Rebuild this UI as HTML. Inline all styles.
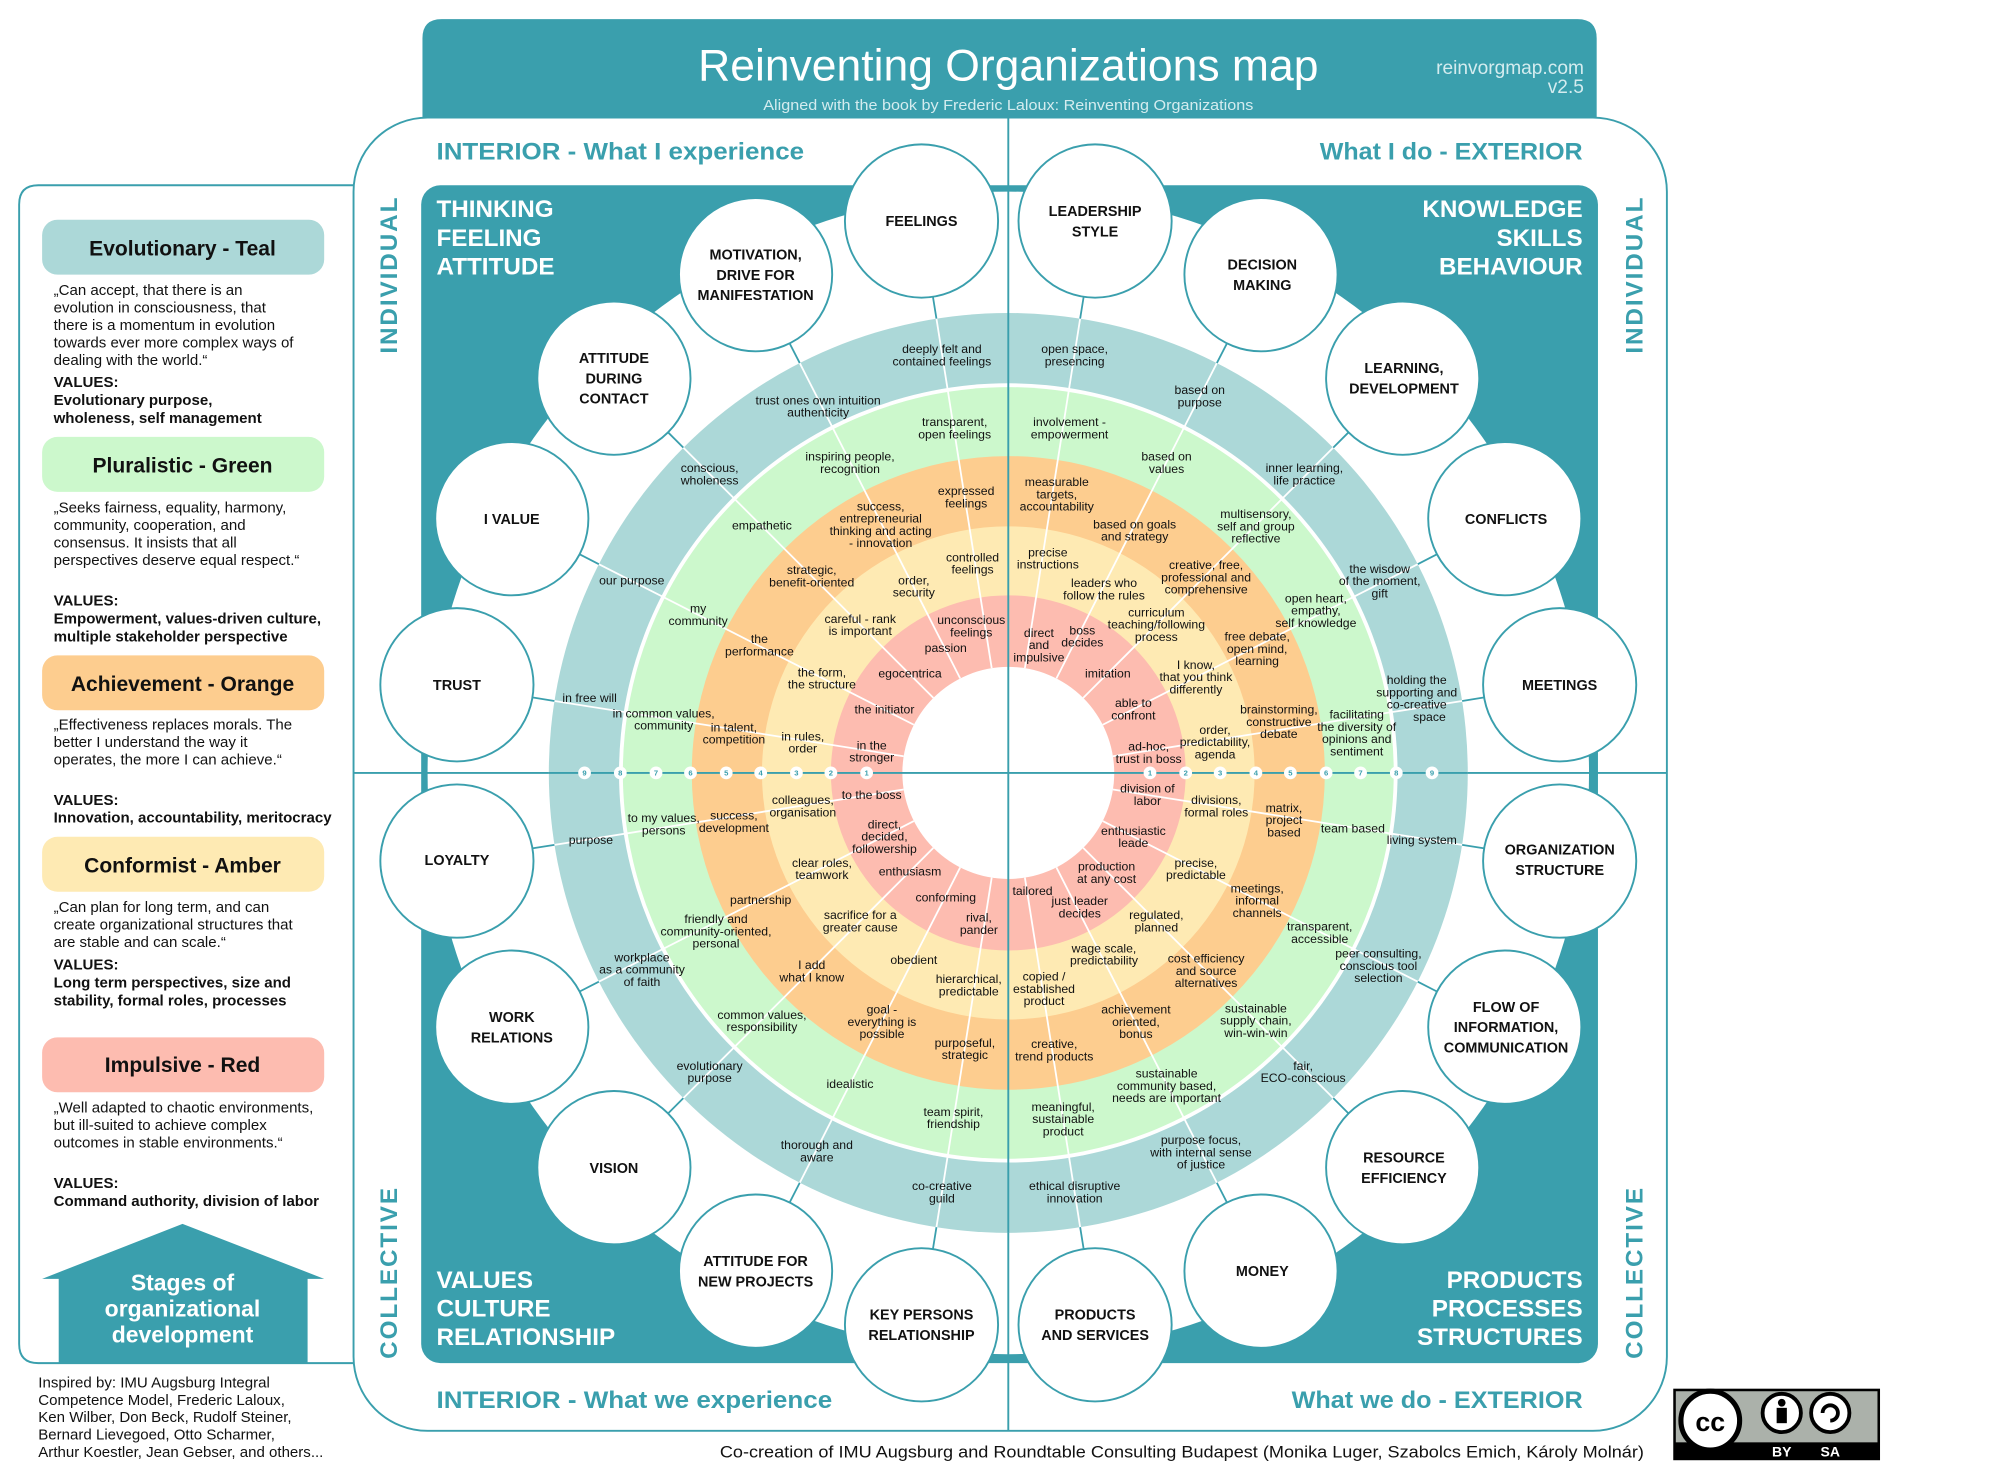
<!DOCTYPE html>
<html><head><meta charset="utf-8"><style>
html,body{margin:0;padding:0;background:#fff}
svg{display:block}
text{font-family:"Liberation Sans",sans-serif}
.l{font-size:9.6px;fill:#111;text-anchor:middle}
.n{font-size:11.3px;font-weight:bold;fill:#111;text-anchor:middle}
.p{font-size:11.8px;fill:#111}
.b{font-size:11.8px;fill:#111;font-weight:bold}
.h{font-size:16.5px;font-weight:bold;fill:#111;text-anchor:middle}
.q{font-size:19px;font-weight:bold;fill:#fff}
.t{font-size:19px;font-weight:bold;fill:#3a9fad}
.m{font-size:6px;font-weight:bold;fill:#3a9fad;text-anchor:middle}
</style></head><body>
<svg width="2000" height="1473" viewBox="0 0 1567 1153" preserveAspectRatio="none" xmlns="http://www.w3.org/2000/svg">
<rect x="277" y="92" width="1029" height="1028" rx="58" fill="#fff" stroke="#3a9fad" stroke-width="1.5"/>
<path d="M277,145 H30 Q15,145 15,160 V1052 Q15,1067 30,1067 H277" fill="none" stroke="#3a9fad" stroke-width="1.5"/>
<rect x="330" y="145" width="922" height="922" rx="15" fill="#3a9fad"/>
<circle cx="790" cy="605" r="455" fill="#fff"/>
<line x1="790" y1="92" x2="790" y2="1120" stroke="#3a9fad" stroke-width="1.5"/>
<line x1="277" y1="605" x2="1306" y2="605" stroke="#3a9fad" stroke-width="1.5"/>
<circle cx="790" cy="605" r="360" fill="#acd8d8"/>
<circle cx="790" cy="605" r="305" fill="#fff"/>
<circle cx="790" cy="605" r="302" fill="#ccf8cc"/>
<circle cx="790" cy="605" r="248" fill="#fdcd8f"/>
<circle cx="790" cy="605" r="193" fill="#feeab3"/>
<circle cx="790" cy="605" r="139" fill="#fdbcb0"/>
<circle cx="790" cy="605" r="83" fill="#fff"/>
<g stroke-width="1.4">
<line x1="803.0" y1="687.0" x2="846.3" y2="960.6" stroke="#fff"/><line x1="846.3" y1="960.6" x2="849.0" y2="977.4" stroke="#3a9fad"/>
<line x1="827.7" y1="679.0" x2="953.4" y2="925.8" stroke="#fff"/><line x1="953.4" y1="925.8" x2="961.2" y2="941.0" stroke="#3a9fad"/>
<line x1="848.7" y1="663.7" x2="1044.6" y2="859.6" stroke="#fff"/><line x1="1044.6" y1="859.6" x2="1056.6" y2="871.6" stroke="#3a9fad"/>
<line x1="864.0" y1="642.7" x2="1110.8" y2="768.4" stroke="#fff"/><line x1="1110.8" y1="768.4" x2="1126.0" y2="776.2" stroke="#3a9fad"/>
<line x1="872.0" y1="618.0" x2="1145.6" y2="661.3" stroke="#fff"/><line x1="1145.6" y1="661.3" x2="1162.4" y2="664.0" stroke="#3a9fad"/>
<line x1="872.0" y1="592.0" x2="1145.6" y2="548.7" stroke="#fff"/><line x1="1145.6" y1="548.7" x2="1162.4" y2="546.0" stroke="#3a9fad"/>
<line x1="864.0" y1="567.3" x2="1110.8" y2="441.6" stroke="#fff"/><line x1="1110.8" y1="441.6" x2="1126.0" y2="433.8" stroke="#3a9fad"/>
<line x1="848.7" y1="546.3" x2="1044.6" y2="350.4" stroke="#fff"/><line x1="1044.6" y1="350.4" x2="1056.6" y2="338.4" stroke="#3a9fad"/>
<line x1="827.7" y1="531.0" x2="953.4" y2="284.2" stroke="#fff"/><line x1="953.4" y1="284.2" x2="961.2" y2="269.0" stroke="#3a9fad"/>
<line x1="803.0" y1="523.0" x2="846.3" y2="249.4" stroke="#fff"/><line x1="846.3" y1="249.4" x2="849.0" y2="232.6" stroke="#3a9fad"/>
<line x1="777.0" y1="523.0" x2="733.7" y2="249.4" stroke="#fff"/><line x1="733.7" y1="249.4" x2="731.0" y2="232.6" stroke="#3a9fad"/>
<line x1="752.3" y1="531.0" x2="626.6" y2="284.2" stroke="#fff"/><line x1="626.6" y1="284.2" x2="618.8" y2="269.0" stroke="#3a9fad"/>
<line x1="731.3" y1="546.3" x2="535.4" y2="350.4" stroke="#fff"/><line x1="535.4" y1="350.4" x2="523.4" y2="338.4" stroke="#3a9fad"/>
<line x1="716.0" y1="567.3" x2="469.2" y2="441.6" stroke="#fff"/><line x1="469.2" y1="441.6" x2="454.0" y2="433.8" stroke="#3a9fad"/>
<line x1="708.0" y1="592.0" x2="434.4" y2="548.7" stroke="#fff"/><line x1="434.4" y1="548.7" x2="417.6" y2="546.0" stroke="#3a9fad"/>
<line x1="708.0" y1="618.0" x2="434.4" y2="661.3" stroke="#fff"/><line x1="434.4" y1="661.3" x2="417.6" y2="664.0" stroke="#3a9fad"/>
<line x1="716.0" y1="642.7" x2="469.2" y2="768.4" stroke="#fff"/><line x1="469.2" y1="768.4" x2="454.0" y2="776.2" stroke="#3a9fad"/>
<line x1="731.3" y1="663.7" x2="535.4" y2="859.6" stroke="#fff"/><line x1="535.4" y1="859.6" x2="523.4" y2="871.6" stroke="#3a9fad"/>
<line x1="752.3" y1="679.0" x2="626.6" y2="925.8" stroke="#fff"/><line x1="626.6" y1="925.8" x2="618.8" y2="941.0" stroke="#3a9fad"/>
<line x1="777.0" y1="687.0" x2="733.7" y2="960.6" stroke="#fff"/><line x1="733.7" y1="960.6" x2="731.0" y2="977.4" stroke="#3a9fad"/>
</g>
<line x1="790" y1="245" x2="790" y2="965" stroke="#3a9fad" stroke-width="1.5"/>
<line x1="430" y1="605" x2="1150" y2="605" stroke="#3a9fad" stroke-width="1.5"/>
<g fill="#fff">
<circle cx="679" cy="605" r="5"/><circle cx="651" cy="605" r="5"/><circle cx="624" cy="605" r="5"/><circle cx="596" cy="605" r="5"/><circle cx="569" cy="605" r="5"/><circle cx="541" cy="605" r="5"/><circle cx="514" cy="605" r="5"/><circle cx="486" cy="605" r="5"/><circle cx="458" cy="605" r="5"/>
<circle cx="901" cy="605" r="5"/><circle cx="929" cy="605" r="5"/><circle cx="956" cy="605" r="5"/><circle cx="984" cy="605" r="5"/><circle cx="1011" cy="605" r="5"/><circle cx="1039" cy="605" r="5"/><circle cx="1066" cy="605" r="5"/><circle cx="1094" cy="605" r="5"/><circle cx="1122" cy="605" r="5"/>
</g>
<g>
<text x="679" y="607.2" class="m">1</text><text x="651" y="607.2" class="m">2</text><text x="624" y="607.2" class="m">3</text><text x="596" y="607.2" class="m">4</text><text x="569" y="607.2" class="m">5</text><text x="541" y="607.2" class="m">6</text><text x="514" y="607.2" class="m">7</text><text x="486" y="607.2" class="m">8</text><text x="458" y="607.2" class="m">9</text>
<text x="901" y="607.2" class="m">1</text><text x="929" y="607.2" class="m">2</text><text x="956" y="607.2" class="m">3</text><text x="984" y="607.2" class="m">4</text><text x="1011" y="607.2" class="m">5</text><text x="1039" y="607.2" class="m">6</text><text x="1066" y="607.2" class="m">7</text><text x="1094" y="607.2" class="m">8</text><text x="1122" y="607.2" class="m">9</text>
</g>
<g>
<text class="l" x="738" y="276.5">deeply felt and<tspan x="738" dy="9.6">contained feelings</tspan></text>
<text class="l" x="641" y="316.5">trust ones own intuition<tspan x="641" dy="9.6">authenticity</tspan></text>
<text class="l" x="748" y="333.5">transparent,<tspan x="748" dy="9.6">open feelings</tspan></text>
<text class="l" x="556" y="369.5">conscious,<tspan x="556" dy="9.6">wholeness</tspan></text>
<text class="l" x="666" y="360.5">inspiring people,<tspan x="666" dy="9.6">recognition</tspan></text>
<text class="l" x="757" y="387.5">expressed<tspan x="757" dy="9.6">feelings</tspan></text>
<text class="l" x="690" y="399.5">success,<tspan x="690" dy="9.6">entrepreneurial</tspan><tspan x="690" dy="9.6">thinking and acting</tspan><tspan x="690" dy="9.6">- innovation</tspan></text>
<text class="l" x="597" y="414.5">empathetic</text>
<text class="l" x="762" y="439.5">controlled<tspan x="762" dy="9.6">feelings</tspan></text>
<text class="l" x="636" y="449.5">strategic,<tspan x="636" dy="9.6">benefit-oriented</tspan></text>
<text class="l" x="716" y="457.5">order,<tspan x="716" dy="9.6">security</tspan></text>
<text class="l" x="495" y="457.5">our purpose</text>
<text class="l" x="547" y="479.5">my<tspan x="547" dy="9.6">community</tspan></text>
<text class="l" x="674" y="487.5">careful - rank<tspan x="674" dy="9.6">is important</tspan></text>
<text class="l" x="761" y="488.5">unconscious<tspan x="761" dy="9.6">feelings</tspan></text>
<text class="l" x="595" y="503.5">the<tspan x="595" dy="9.6">performance</tspan></text>
<text class="l" x="741" y="510.5">passion</text>
<text class="l" x="644" y="529.5">the form,<tspan x="644" dy="9.6">the structure</tspan></text>
<text class="l" x="713" y="530.5">egocentrica</text>
<text class="l" x="462" y="549.5">in free will</text>
<text class="l" x="693" y="558.5">the initiator</text>
<text class="l" x="520" y="561.5">in common values,<tspan x="520" dy="9.6">community</tspan></text>
<text class="l" x="575" y="572.5">in talent,<tspan x="575" dy="9.6">competition</tspan></text>
<text class="l" x="629" y="579.5">in rules,<tspan x="629" dy="9.6">order</tspan></text>
<text class="l" x="683" y="586.5">in the<tspan x="683" dy="9.6">stronger</tspan></text>

<text class="l" x="842" y="276.5">open space,<tspan x="842" dy="9.6">presencing</tspan></text>
<text class="l" x="940" y="308.5">based on<tspan x="940" dy="9.6">purpose</tspan></text>
<text class="l" x="838" y="333.5">involvement -<tspan x="838" dy="9.6">empowerment</tspan></text>
<text class="l" x="914" y="360.5">based on<tspan x="914" dy="9.6">values</tspan></text>
<text class="l" x="1022" y="369.5">inner learning,<tspan x="1022" dy="9.6">life practice</tspan></text>
<text class="l" x="828" y="380.5">measurable<tspan x="828" dy="9.6">targets,</tspan><tspan x="828" dy="9.6">accountability</tspan></text>
<text class="l" x="889" y="413.5">based on goals<tspan x="889" dy="9.6">and strategy</tspan></text>
<text class="l" x="984" y="405.5">multisensory,<tspan x="984" dy="9.6">self and group</tspan><tspan x="984" dy="9.6">reflective</tspan></text>
<text class="l" x="821" y="435.5">precise<tspan x="821" dy="9.6">instructions</tspan></text>
<text class="l" x="865" y="459.5">leaders who<tspan x="865" dy="9.6">follow the rules</tspan></text>
<text class="l" x="945" y="445.5">creative, free,<tspan x="945" dy="9.6">professional and</tspan><tspan x="945" dy="9.6">comprehensive</tspan></text>
<text class="l" x="1081" y="448.5">the wisdow<tspan x="1081" dy="9.6">of the moment,</tspan><tspan x="1081" dy="9.6">gift</tspan></text>
<text class="l" x="1031" y="471.5">open heart,<tspan x="1031" dy="9.6">empathy,</tspan><tspan x="1031" dy="9.6">self knowledge</tspan></text>
<text class="l" x="906" y="482.5">curriculum<tspan x="906" dy="9.6">teaching/following</tspan><tspan x="906" dy="9.6">process</tspan></text>
<text class="l" x="814" y="498.5">direct<tspan x="814" dy="9.6">and</tspan><tspan x="814" dy="9.6">impulsive</tspan></text>
<text class="l" x="848" y="496.5">boss<tspan x="848" dy="9.6">decides</tspan></text>
<text class="l" x="985" y="501.5">free debate,<tspan x="985" dy="9.6">open mind,</tspan><tspan x="985" dy="9.6">learning</tspan></text>
<text class="l" x="868" y="530.5">imitation</text>
<text class="l" x="937" y="523.5">I know,<tspan x="937" dy="9.6">that you think</tspan><tspan x="937" dy="9.6">differently</tspan></text>
<text class="l" x="1110" y="535.5">holding the<tspan x="1110" dy="9.6">supporting and</tspan><tspan x="1110" dy="9.6">co-creative</tspan><tspan x="1120" dy="9.6">space</tspan></text>
<text class="l" x="888" y="553.5">able to<tspan x="888" dy="9.6">confront</tspan></text>
<text class="l" x="1002" y="558.5">brainstorming,<tspan x="1002" dy="9.6">constructive</tspan><tspan x="1002" dy="9.6">debate</tspan></text>
<text class="l" x="1063" y="562.5">facilitating<tspan x="1063" dy="9.6">the diversity of</tspan><tspan x="1063" dy="9.6">opinions and</tspan><tspan x="1063" dy="9.6">sentiment</tspan></text>
<text class="l" x="952" y="574.5">order,<tspan x="952" dy="9.6">predictability,</tspan><tspan x="952" dy="9.6">agenda</tspan></text>
<text class="l" x="900" y="587.5">ad-hoc,<tspan x="900" dy="9.6">trust in boss</tspan></text>

<text class="l" x="899" y="620.5">division of<tspan x="899" dy="9.6">labor</tspan></text>
<text class="l" x="953" y="629.5">divisions,<tspan x="953" dy="9.6">formal roles</tspan></text>
<text class="l" x="1006" y="635.5">matrix,<tspan x="1006" dy="9.6">project</tspan><tspan x="1006" dy="9.6">based</tspan></text>
<text class="l" x="1060" y="651.5">team based</text>
<text class="l" x="1114" y="660.5">living system</text>
<text class="l" x="888" y="653.5">enthusiastic<tspan x="888" dy="9.6">leade</tspan></text>
<text class="l" x="937" y="678.5">precise,<tspan x="937" dy="9.6">predictable</tspan></text>
<text class="l" x="867" y="681.5">production<tspan x="867" dy="9.6">at any cost</tspan></text>
<text class="l" x="985" y="698.5">meetings,<tspan x="985" dy="9.6">informal</tspan><tspan x="985" dy="9.6">channels</tspan></text>
<text class="l" x="809" y="700.5">tailored</text>
<text class="l" x="846" y="708.5">just leader<tspan x="846" dy="9.6">decides</tspan></text>
<text class="l" x="906" y="719.5">regulated,<tspan x="906" dy="9.6">planned</tspan></text>
<text class="l" x="1034" y="728.5">transparent,<tspan x="1034" dy="9.6">accessible</tspan></text>
<text class="l" x="865" y="745.5">wage scale,<tspan x="865" dy="9.6">predictability</tspan></text>
<text class="l" x="1080" y="749.5">peer consulting,<tspan x="1080" dy="9.6">conscious tool</tspan><tspan x="1080" dy="9.6">selection</tspan></text>
<text class="l" x="945" y="753.5">cost efficiency<tspan x="945" dy="9.6">and source</tspan><tspan x="945" dy="9.6">alternatives</tspan></text>
<text class="l" x="818" y="767.5">copied /<tspan x="818" dy="9.6">established</tspan><tspan x="818" dy="9.6">product</tspan></text>
<text class="l" x="890" y="793.5">achievement<tspan x="890" dy="9.6">oriented,</tspan><tspan x="890" dy="9.6">bonus</tspan></text>
<text class="l" x="984" y="792.5">sustainable<tspan x="984" dy="9.6">supply chain,</tspan><tspan x="984" dy="9.6">win-win-win</tspan></text>
<text class="l" x="826" y="820.5">creative,<tspan x="826" dy="9.6">trend products</tspan></text>
<text class="l" x="1021" y="837.5">fair,<tspan x="1021" dy="9.6">ECO-conscious</tspan></text>
<text class="l" x="914" y="843.5">sustainable<tspan x="914" dy="9.6">community based,</tspan><tspan x="914" dy="9.6">needs are important</tspan></text>
<text class="l" x="833" y="869.5">meaningful,<tspan x="833" dy="9.6">sustainable</tspan><tspan x="833" dy="9.6">product</tspan></text>
<text class="l" x="941" y="895.5">purpose focus,<tspan x="941" dy="9.6">with internal sense</tspan><tspan x="941" dy="9.6">of justice</tspan></text>
<text class="l" x="842" y="931.5">ethical disruptive<tspan x="842" dy="9.6">innovation</tspan></text>

<text class="l" x="683" y="625.5">to the boss</text>
<text class="l" x="629" y="629.5">colleagues,<tspan x="629" dy="9.6">organisation</tspan></text>
<text class="l" x="520" y="643.5">to my values,<tspan x="520" dy="9.6">persons</tspan></text>
<text class="l" x="575" y="641.5">success,<tspan x="575" dy="9.6">development</tspan></text>
<text class="l" x="463" y="660.5">purpose</text>
<text class="l" x="693" y="648.5">direct,<tspan x="693" dy="9.6">decided,</tspan><tspan x="693" dy="9.6">followership</tspan></text>
<text class="l" x="644" y="678.5">clear roles,<tspan x="644" dy="9.6">teamwork</tspan></text>
<text class="l" x="713" y="685.5">enthusiasm</text>
<text class="l" x="741" y="705.5">conforming</text>
<text class="l" x="596" y="707.5">partnership</text>
<text class="l" x="767" y="721.5">rival,<tspan x="767" dy="9.6">pander</tspan></text>
<text class="l" x="561" y="722.5">friendly and<tspan x="561" dy="9.6">community-oriented,</tspan><tspan x="561" dy="9.6">personal</tspan></text>
<text class="l" x="674" y="719.5">sacrifice for a<tspan x="674" dy="9.6">greater cause</tspan></text>
<text class="l" x="503" y="752.5">workplace<tspan x="503" dy="9.6">as a community</tspan><tspan x="503" dy="9.6">of faith</tspan></text>
<text class="l" x="636" y="758.5">I add<tspan x="636" dy="9.6">what I know</tspan></text>
<text class="l" x="716" y="754.5">obedient</text>
<text class="l" x="759" y="769.5">hierarchical,<tspan x="759" dy="9.6">predictable</tspan></text>
<text class="l" x="597" y="797.5">common values,<tspan x="597" dy="9.6">responsibility</tspan></text>
<text class="l" x="691" y="793.5">goal -<tspan x="691" dy="9.6">everything is</tspan><tspan x="691" dy="9.6">possible</tspan></text>
<text class="l" x="756" y="819.5">purposeful,<tspan x="756" dy="9.6">strategic</tspan></text>
<text class="l" x="556" y="837.5">evolutionary<tspan x="556" dy="9.6">purpose</tspan></text>
<text class="l" x="666" y="851.5">idealistic</text>
<text class="l" x="747" y="873.5">team spirit,<tspan x="747" dy="9.6">friendship</tspan></text>
<text class="l" x="640" y="899.5">thorough and<tspan x="640" dy="9.6">aware</tspan></text>
<text class="l" x="738" y="931.5">co-creative<tspan x="738" dy="9.6">guild</tspan></text>
</g>
<g fill="#fff" stroke="#3a9fad" stroke-width="1.5">
<circle cx="722" cy="173" r="60"/><circle cx="858" cy="173" r="60"/>
<circle cx="592" cy="215" r="60"/><circle cx="988" cy="215" r="60"/>
<circle cx="481" cy="296" r="60"/><circle cx="1099" cy="296" r="60"/>
<circle cx="401" cy="406" r="60"/><circle cx="1179" cy="406" r="60"/>
<circle cx="358" cy="536" r="60"/><circle cx="1222" cy="536" r="60"/>
<circle cx="358" cy="674" r="60"/><circle cx="1222" cy="674" r="60"/>
<circle cx="401" cy="804" r="60"/><circle cx="1179" cy="804" r="60"/>
<circle cx="481" cy="914" r="60"/><circle cx="1099" cy="914" r="60"/>
<circle cx="592" cy="995" r="60"/><circle cx="988" cy="995" r="60"/>
<circle cx="722" cy="1037" r="60"/><circle cx="858" cy="1037" r="60"/>
</g>
<g>
<text class="n" x="722" y="177">FEELINGS</text>
<text class="n" x="858" y="169">LEADERSHIP<tspan x="858" dy="16">STYLE</tspan></text>
<text class="n" x="592" y="203">MOTIVATION,<tspan x="592" dy="16">DRIVE FOR</tspan><tspan x="592" dy="16">MANIFESTATION</tspan></text>
<text class="n" x="989" y="211">DECISION<tspan x="989" dy="16">MAKING</tspan></text>
<text class="n" x="481" y="284">ATTITUDE<tspan x="481" dy="16">DURING</tspan><tspan x="481" dy="16">CONTACT</tspan></text>
<text class="n" x="1100" y="292">LEARNING,<tspan x="1100" dy="16">DEVELOPMENT</tspan></text>
<text class="n" x="401" y="410">I VALUE</text>
<text class="n" x="1180" y="410">CONFLICTS</text>
<text class="n" x="358" y="540">TRUST</text>
<text class="n" x="1222" y="540">MEETINGS</text>
<text class="n" x="358" y="677">LOYALTY</text>
<text class="n" x="1222" y="669">ORGANIZATION<tspan x="1222" dy="16">STRUCTURE</tspan></text>
<text class="n" x="401" y="800">WORK<tspan x="401" dy="16">RELATIONS</tspan></text>
<text class="n" x="1180" y="792">FLOW OF<tspan x="1180" dy="16">INFORMATION,</tspan><tspan x="1180" dy="16">COMMUNICATION</tspan></text>
<text class="n" x="481" y="918">VISION</text>
<text class="n" x="1100" y="910">RESOURCE<tspan x="1100" dy="16">EFFICIENCY</tspan></text>
<text class="n" x="592" y="991">ATTITUDE FOR<tspan x="592" dy="16">NEW PROJECTS</tspan></text>
<text class="n" x="989" y="999">MONEY</text>
<text class="n" x="722" y="1033">KEY PERSONS<tspan x="722" dy="16">RELATIONSHIP</tspan></text>
<text class="n" x="858" y="1033">PRODUCTS<tspan x="858" dy="16">AND SERVICES</tspan></text>
</g>
<text class="q" x="342" y="170">THINKING<tspan x="342" dy="22.5">FEELING</tspan><tspan x="342" dy="22.5">ATTITUDE</tspan></text>
<text class="q" x="1240" y="170" text-anchor="end">KNOWLEDGE<tspan x="1240" dy="22.5">SKILLS</tspan><tspan x="1240" dy="22.5">BEHAVIOUR</tspan></text>
<text class="q" x="342" y="1008">VALUES<tspan x="342" dy="22.5">CULTURE</tspan><tspan x="342" dy="22.5">RELATIONSHIP</tspan></text>
<text class="q" x="1240" y="1008" text-anchor="end">PRODUCTS<tspan x="1240" dy="22.5">PROCESSES</tspan><tspan x="1240" dy="22.5">STRUCTURES</tspan></text>
<text class="t" x="342" y="125" textLength="288" lengthAdjust="spacingAndGlyphs">INTERIOR - What I experience</text>
<text class="t" x="1034" y="125" textLength="206" lengthAdjust="spacingAndGlyphs">What I do - EXTERIOR</text>
<text class="t" x="342" y="1102" textLength="310" lengthAdjust="spacingAndGlyphs">INTERIOR - What we experience</text>
<text class="t" x="1012" y="1102" textLength="228" lengthAdjust="spacingAndGlyphs">What we do - EXTERIOR</text>
<text class="t" transform="translate(311,215) rotate(-90)" text-anchor="middle" style="letter-spacing:1.5px">INDIVIDUAL</text>
<text class="t" transform="translate(1287,215) rotate(-90)" text-anchor="middle" style="letter-spacing:1.5px">INDIVIDUAL</text>
<text class="t" transform="translate(311,996) rotate(-90)" text-anchor="middle" style="letter-spacing:1.5px">COLLECTIVE</text>
<text class="t" transform="translate(1287,996) rotate(-90)" text-anchor="middle" style="letter-spacing:1.5px">COLLECTIVE</text>
<path d="M331,92 V30 Q331,15 346,15 H1236 Q1251,15 1251,30 V92 Z" fill="#3a9fad"/>
<text x="790" y="63" text-anchor="middle" fill="#fff" style="font-size:35px" textLength="486" lengthAdjust="spacingAndGlyphs">Reinventing Organizations map</text>
<text x="790" y="86" text-anchor="middle" fill="#d4ecef" style="font-size:11.5px" textLength="384" lengthAdjust="spacingAndGlyphs">Aligned with the book by Frederic Laloux: Reinventing Organizations</text>
<text x="1241" y="58" text-anchor="end" fill="#d4ecef" style="font-size:15px">reinvorgmap.com</text>
<text x="1241" y="73" text-anchor="end" fill="#d4ecef" style="font-size:15px">v2.5</text>
<rect x="33" y="172" width="221" height="43" rx="12" fill="#acd8d8"/>
<text class="h" x="143" y="200">Evolutionary - Teal</text>
<text class="p" x="42" y="231">„Can accept, that there is an<tspan x="42" dy="13.7">evolution in consciousness, that</tspan><tspan x="42" dy="13.7">there is a momentum in evolution</tspan><tspan x="42" dy="13.7">towards ever more complex ways of</tspan><tspan x="42" dy="13.7">dealing with the world.“</tspan></text>
<text class="b" x="42" y="303">VALUES:<tspan x="42" dy="14">Evolutionary purpose,</tspan><tspan x="42" dy="14">wholeness, self management</tspan></text>
<rect x="33" y="342" width="221" height="43" rx="12" fill="#ccf8cc"/>
<text class="h" x="143" y="370">Pluralistic - Green</text>
<text class="p" x="42" y="401">„Seeks fairness, equality, harmony,<tspan x="42" dy="13.7">community, cooperation, and</tspan><tspan x="42" dy="13.7">consensus. It insists that all</tspan><tspan x="42" dy="13.7">perspectives deserve equal respect.“</tspan></text>
<text class="b" x="42" y="474">VALUES:<tspan x="42" dy="14">Empowerment, values-driven culture,</tspan><tspan x="42" dy="14">multiple stakeholder perspective</tspan></text>
<rect x="33" y="513" width="221" height="43" rx="12" fill="#fdcd8f"/>
<text class="h" x="143" y="541">Achievement - Orange</text>
<text class="p" x="42" y="571">„Effectiveness replaces morals. The<tspan x="42" dy="13.7">better I understand the way it</tspan><tspan x="42" dy="13.7">operates, the more I can achieve.“</tspan></text>
<text class="b" x="42" y="630">VALUES:<tspan x="42" dy="14">Innovation, accountability, meritocracy</tspan></text>
<rect x="33" y="655" width="221" height="43" rx="12" fill="#feeab3"/>
<text class="h" x="143" y="683">Conformist - Amber</text>
<text class="p" x="42" y="714">„Can plan for long term, and can<tspan x="42" dy="13.7">create organizational structures that</tspan><tspan x="42" dy="13.7">are stable and can scale.“</tspan></text>
<text class="b" x="42" y="759">VALUES:<tspan x="42" dy="14">Long term perspectives, size and</tspan><tspan x="42" dy="14">stability, formal roles, processes</tspan></text>
<rect x="33" y="812" width="221" height="43" rx="12" fill="#fdbcb0"/>
<text class="h" x="143" y="839">Impulsive - Red</text>
<text class="p" x="42" y="871">„Well adapted to chaotic environments,<tspan x="42" dy="13.7">but ill-suited to achieve complex</tspan><tspan x="42" dy="13.7">outcomes in stable environments.“</tspan></text>
<text class="b" x="42" y="930">VALUES:<tspan x="42" dy="14">Command authority, division of labor</tspan></text>
<path d="M33,1001 L143,958 L254,1001 L241,1001 V1067 H46 V1001 Z" fill="#3a9fad"/>
<text x="143" y="1010" text-anchor="middle" fill="#fff" style="font-size:18px;font-weight:bold">Stages of<tspan x="143" dy="20.5">organizational</tspan><tspan x="143" dy="20.5">development</tspan></text>
<text class="p" x="30" y="1086">Inspired by: IMU Augsburg Integral<tspan x="30" dy="13.6">Competence Model, Frederic Laloux,</tspan><tspan x="30" dy="13.6">Ken Wilber, Don Beck, Rudolf Steiner,</tspan><tspan x="30" dy="13.6">Bernard Lievegoed, Otto Scharmer,</tspan><tspan x="30" dy="13.6">Arthur Koestler, Jean Gebser, and others...</tspan></text>
<text x="1288" y="1141" text-anchor="end" fill="#111" style="font-size:12.8px" textLength="724" lengthAdjust="spacingAndGlyphs">Co-creation of IMU Augsburg and Roundtable Consulting Budapest (Monika Luger, Szabolcs Emich, Károly Molnár)</text>
<rect x="1311" y="1087" width="162" height="56" fill="#000"/>
<rect x="1313" y="1089" width="158" height="40" fill="#abb1aa"/>
<circle cx="1340" cy="1112" r="23" fill="#fff" stroke="#000" stroke-width="4"/>
<text x="1340" y="1120" text-anchor="middle" style="font-size:21px;font-weight:bold" fill="#000">cc</text>
<circle cx="1396" cy="1106" r="15" fill="#fff" stroke="#000" stroke-width="3"/>
<circle cx="1396" cy="1098" r="3" fill="#000"/><rect x="1392" y="1102" width="8" height="12" fill="#000"/>
<circle cx="1434" cy="1106" r="15" fill="#fff" stroke="#000" stroke-width="3"/>
<path d="M1428,1106 A6,6 0 1 1 1434,1112" fill="none" stroke="#000" stroke-width="3"/>
<text x="1396" y="1140" text-anchor="middle" fill="#fff" style="font-size:11px;font-weight:bold">BY</text>
<text x="1434" y="1140" text-anchor="middle" fill="#fff" style="font-size:11px;font-weight:bold">SA</text>
</svg>
</body></html>
